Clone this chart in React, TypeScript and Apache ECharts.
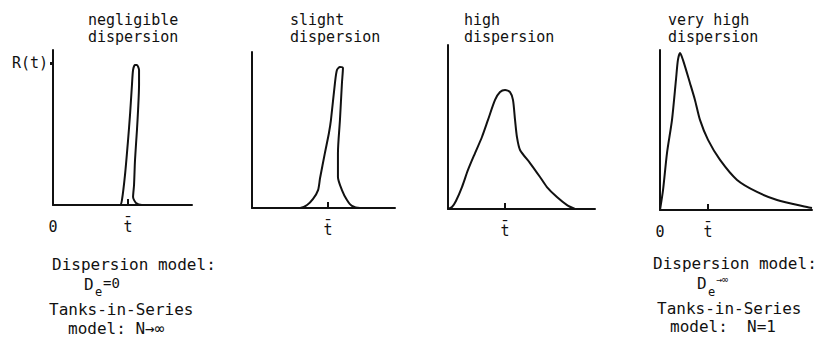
import React, { useEffect, useRef } from "react";
import * as echarts from "echarts";

// ---- Data (arbitrary time / response units 0..10) ----
const panelTitles = ["negligible\ndispersion", "slight\ndispersion", "high\ndispersion", "very high\ndispersion"];

const curveNegligible: [number, number][] = [
  [0, 0], [4.82, 0], [4.96, 0.32], [5.18, 1.94], [5.4, 4.19], [5.54, 5.81], [5.68, 7.74],
  [5.76, 8.71], [5.9, 9.03], [6.04, 9.03], [6.19, 8.71], [6.19, 7.74], [6.12, 6.13],
  [6.04, 4.84], [5.9, 2.9], [5.83, 1.29], [5.76, 0.52], [5.97, 0.13], [6.4, 0], [10, 0],
];
const curveSlight: [number, number][] = [
  [0, 0], [3.36, 0], [3.85, 0.19], [4.27, 0.58], [4.62, 1.15], [4.76, 1.92], [5.1, 3.53],
  [5.38, 4.81], [5.52, 5.64], [5.8, 8.01], [5.94, 8.85], [6.15, 9.04], [6.36, 8.97],
  [6.29, 8.01], [6.15, 5.64], [6.01, 3.53], [6.01, 1.99], [6.29, 1.15], [6.64, 0.51],
  [6.99, 0.13], [7.55, 0], [10, 0],
];
const curveHigh: [number, number][] = [
  [0, 0], [0.27, 0.12], [0.54, 0.49], [0.95, 1.34], [1.36, 2.38], [1.84, 3.41], [2.31, 4.39],
  [2.72, 5.43], [3.2, 6.65], [3.54, 7.13], [3.88, 7.26], [4.22, 7.13], [4.42, 6.65],
  [4.56, 5.43], [4.69, 4.39], [4.9, 3.6], [5.58, 2.8], [6.26, 1.95], [6.73, 1.34],
  [7.41, 0.73], [8.1, 0.24], [8.64, 0],
];
const curveVeryHigh: [number, number][] = [
  [0, 0], [0.2, 1.25], [0.46, 3.56], [0.79, 5.63], [1.05, 8.13], [1.18, 9.38], [1.32, 9.81],
  [1.51, 9.38], [1.97, 7.94], [2.3, 6.88], [2.63, 5.63], [3.16, 4.38], [3.95, 3.13],
  [5.07, 1.88], [6.38, 1.13], [7.7, 0.63], [9.67, 0.19], [10, 0.13],
];
const curves = [curveNegligible, curveSlight, curveHigh, curveVeryHigh];

const meanTimes = [5.4, 5.31, 3.88, 3.16]; // position of t-bar on each time axis
const showOrigin = [true, false, false, true];
const originLabel = "0";
const meanLabel = "t\u0304";
const responseLabel = "R(t)";
const responseLabelValue = 9.16;

const leftNotes = { model: "Dispersion model:", d: "D", sub: "e", dValue: "=0", tanks: "Tanks-in-Series", tanksModel: "model: N\u2192\u221e" };
const rightNotes = { model: "Dispersion model:", d: "D", sub: "e", dValue: "\u2192\u221e", tanks: "Tanks-in-Series", tanksModel: "model:  N=1" };

// ---- Layout ----
const grids = [
  { left: 53, top: 50, width: 139, height: 155 },
  { left: 252, top: 52, width: 143, height: 156 },
  { left: 448, top: 45, width: 147, height: 164 },
  { left: 660, top: 50, width: 152, height: 160 },
];
const titleX = [88, 290, 464, 668];
const FONT = "'DejaVu Sans Mono', monospace";
const INK = "#111";

export default function App() {
  const ref = useRef<HTMLDivElement>(null);
  useEffect(() => {
    if (!ref.current) return;
    const chart = echarts.init(ref.current, undefined, { renderer: "svg" });

    const xAxes = grids.map((_, i) => {
      const vals = showOrigin[i] ? [0, meanTimes[i]] : [meanTimes[i]];
      return {
        type: "value" as const,
        gridIndex: i,
        min: 0,
        max: 10,
        axisLine: { show: true, lineStyle: { color: INK, width: 2 } },
        splitLine: { show: false },
        axisTick: { show: true, inside: true, length: 6, customValues: [meanTimes[i]], lineStyle: { color: INK, width: 2 } },
        axisLabel: {
          show: true,
          customValues: vals,
          margin: 14,
          color: INK,
          fontFamily: FONT,
          fontSize: 15,
          formatter: (v: number) => (v === 0 ? originLabel : meanLabel),
        },
      };
    });
    const yAxes = grids.map((_, i) => ({
      type: "value" as const,
      gridIndex: i,
      min: 0,
      max: 10,
      axisLine: { show: true, lineStyle: { color: INK, width: 2 } },
      splitLine: { show: false },
      axisTick: i === 0
        ? { show: true, length: 3, customValues: [responseLabelValue], lineStyle: { color: INK, width: 3 } }
        : { show: false },
      axisLabel: i === 0
        ? { show: true, customValues: [responseLabelValue], margin: 5, color: INK, fontFamily: FONT, fontSize: 15, formatter: () => responseLabel }
        : { show: false },
    }));

    const series = curves.map((c, i) => ({
      type: "line" as const,
      xAxisIndex: i,
      yAxisIndex: i,
      data: c,
      showSymbol: false,
      smooth: 0.25,
      lineStyle: { color: INK, width: 2 },
    }));

    const txt = (x: number, y: number, text: string, size = 16, extra: any = {}) => ({
      type: "text",
      x,
      y,
      style: { text, fill: INK, font: `${size}px ${FONT}`, textVerticalAlign: "middle", ...extra },
    });

    const graphic: any[] = [];
    panelTitles.forEach((t, i) => {
      graphic.push({
        type: "text",
        x: titleX[i],
        y: 11,
        style: { text: t, fill: INK, font: `15px ${FONT}`, lineHeight: 17, textVerticalAlign: "top" },
      });
    });
    // left notes
    graphic.push(txt(52, 264, leftNotes.model));
    graphic.push(txt(84, 284, leftNotes.d));
    graphic.push(txt(95, 292, leftNotes.sub, 12));
    graphic.push(txt(103, 283, leftNotes.dValue, 14));
    graphic.push(txt(49, 309, leftNotes.tanks));
    graphic.push(txt(68, 328, leftNotes.tanksModel));
    // right notes
    graphic.push(txt(653, 263, rightNotes.model));
    graphic.push(txt(697, 283, rightNotes.d));
    graphic.push(txt(708, 292, rightNotes.sub, 12));
    graphic.push(txt(716, 279, rightNotes.dValue, 10));
    graphic.push(txt(657, 308, rightNotes.tanks));
    graphic.push(txt(670, 326, rightNotes.tanksModel));

    chart.setOption({
      animation: false,
      backgroundColor: "#fff",
      grid: grids.map((g) => ({ ...g, containLabel: false })),
      xAxis: xAxes,
      yAxis: yAxes,
      series,
      graphic,
    });
    return () => chart.dispose();
  }, []);
  return <div ref={ref} style={{ position: "fixed", left: 0, top: 0, width: 823, height: 352 }} />;
}
